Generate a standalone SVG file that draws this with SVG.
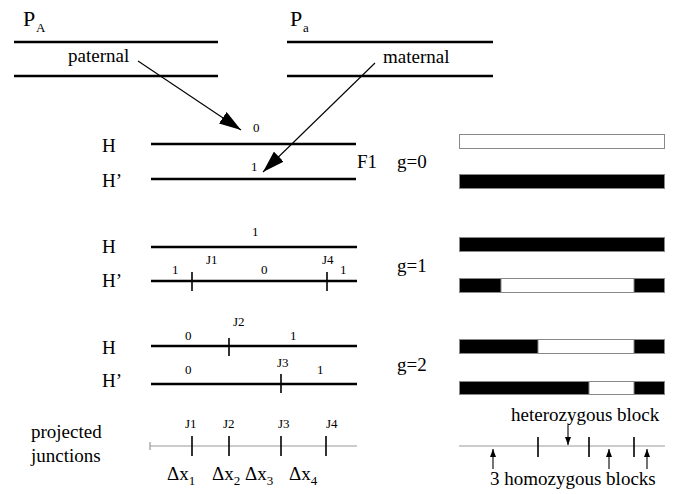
<svg xmlns="http://www.w3.org/2000/svg" width="674" height="494" viewBox="0 0 674 494" font-family="'Liberation Serif', 'DejaVu Serif', serif">
<style>
text{font-family:'Liberation Serif','DejaVu Serif',serif;fill:#000}
.big{font-size:19px}
.sm{font-size:13px}
.p{font-size:22px}
.sub{font-size:13px}
.chr{stroke:#000;stroke-width:2.4;fill:none}
.tick{stroke:#000;stroke-width:1.6}
.gl{stroke:#999;stroke-width:1.2}
.bk{fill:#000;stroke:#888;stroke-width:1}
.wh{fill:#fff;stroke:#888;stroke-width:1}
.arr{stroke:#000;stroke-width:1.1;fill:none}
</style>
<defs>
<marker id="ah" markerUnits="userSpaceOnUse" markerWidth="24" markerHeight="14" refX="22" refY="7" orient="auto">
<path d="M0,0 L22,7 L0,14 Z" fill="#000"/>
</marker>
<marker id="ahs" markerUnits="userSpaceOnUse" markerWidth="8" markerHeight="6" refX="8" refY="3" orient="auto">
<path d="M0,0 L8,3 L0,6 Z" fill="#000"/>
</marker>
</defs>

<g id="parentA">
<text class="p" x="23" y="26">P</text><text class="sub" x="36" y="32">A</text>
<line class="chr" x1="14" y1="42" x2="218" y2="42"/>
<line class="chr" x1="14" y1="76" x2="218" y2="76"/>
<text class="big" x="68" y="62">paternal</text>
</g>
<g id="parentB">
<text class="p" x="290" y="26">P</text><text class="sub" x="303" y="32">a</text>
<line class="chr" x1="287" y1="42" x2="493" y2="42"/>
<line class="chr" x1="287" y1="76" x2="493" y2="76"/>
<text class="big" x="383" y="63">maternal</text>
</g>

<g id="connectors">
<line class="arr" x1="138" y1="61" x2="241" y2="130" marker-end="url(#ah)"/>
<line class="arr" x1="375" y1="63" x2="263" y2="172" marker-end="url(#ah)"/>
<line class="arr" x1="568" y1="425" x2="568" y2="445" marker-end="url(#ahs)"/>
<line class="arr" x1="493" y1="469" x2="493" y2="449" marker-end="url(#ahs)"/>
<line class="arr" x1="609" y1="469" x2="609" y2="449" marker-end="url(#ahs)"/>
<line class="arr" x1="647" y1="469" x2="647" y2="449" marker-end="url(#ahs)"/>
</g>

<g id="f1">
<text class="big" x="102" y="152">H</text>
<text class="big" x="102" y="187">H’</text>
<line class="chr" x1="151" y1="144" x2="356" y2="144"/>
<line class="chr" x1="151" y1="179" x2="356" y2="179"/>
<text class="sm" x="253" y="132">0</text>
<text class="sm" x="251" y="171">1</text>
<text class="big" x="357" y="168">F1</text>
<text class="big" x="397" y="168">g=0</text>
<rect class="wh" x="459.5" y="134.5" width="205" height="14"/>
<rect class="bk" x="459.5" y="174.5" width="205" height="14"/>
</g>

<g id="g1">
<text class="big" x="102" y="253">H</text>
<text class="big" x="102" y="287">H’</text>
<line class="chr" x1="151" y1="247" x2="357" y2="247"/>
<line class="chr" x1="151" y1="281" x2="357" y2="281"/>
<line class="tick" x1="192" y1="272" x2="192" y2="291"/>
<line class="tick" x1="327" y1="272" x2="327" y2="291"/>
<text class="sm" x="252" y="236">1</text>
<text class="sm" x="172" y="274">1</text>
<text class="sm" x="206" y="264">J1</text>
<text class="sm" x="261" y="274">0</text>
<text class="sm" x="322" y="264">J4</text>
<text class="sm" x="340" y="274">1</text>
<text class="big" x="397" y="272">g=1</text>
<rect class="bk" x="459.5" y="237.5" width="205" height="14"/>
<rect class="bk" x="459.5" y="278.5" width="205" height="14"/>
<rect class="wh" x="501" y="278.5" width="133" height="14"/>
</g>

<g id="g2">
<text class="big" x="102" y="354">H</text>
<text class="big" x="102" y="387">H’</text>
<line class="chr" x1="151" y1="346" x2="357" y2="346"/>
<line class="chr" x1="151" y1="384" x2="357" y2="384"/>
<line class="tick" x1="229" y1="338" x2="229" y2="356"/>
<line class="tick" x1="281" y1="374" x2="281" y2="393"/>
<text class="sm" x="185" y="340">0</text>
<text class="sm" x="233" y="326">J2</text>
<text class="sm" x="290" y="340">1</text>
<text class="sm" x="185" y="374">0</text>
<text class="sm" x="277" y="367">J3</text>
<text class="sm" x="317" y="374">1</text>
<text class="big" x="397" y="371">g=2</text>
<rect class="bk" x="459.5" y="339.5" width="205" height="14"/>
<rect class="wh" x="538" y="339.5" width="96" height="14"/>
<rect class="bk" x="459.5" y="381.5" width="205" height="13"/>
<rect class="wh" x="589" y="381.5" width="45" height="13"/>
</g>

<g id="projected">
<text class="big" x="31" y="438">projected</text>
<text class="big" x="31" y="462">junctions</text>
<line class="gl" x1="150" y1="446" x2="357" y2="446"/>
<line class="gl" x1="150" y1="442" x2="150" y2="450"/>
<line class="tick" x1="192" y1="436" x2="192" y2="456"/>
<line class="tick" x1="229" y1="436" x2="229" y2="456"/>
<line class="tick" x1="281" y1="436" x2="281" y2="456"/>
<line class="tick" x1="326" y1="436" x2="326" y2="456"/>
<text class="sm" x="185" y="428">J1</text>
<text class="sm" x="223" y="428">J2</text>
<text class="sm" x="278" y="428">J3</text>
<text class="sm" x="326" y="428">J4</text>
<text class="big" x="167" y="480">Δx<tspan class="sub" dy="5">1</tspan></text>
<text class="big" x="212" y="480">Δx<tspan class="sub" dy="5">2</tspan></text>
<text class="big" x="245" y="480">Δx<tspan class="sub" dy="5">3</tspan></text>
<text class="big" x="289" y="480">Δx<tspan class="sub" dy="5">4</tspan></text>
</g>

<g id="blocks">
<text class="big" x="511" y="421">heterozygous block</text>
<line class="gl" x1="459" y1="446" x2="665" y2="446"/>
<line class="tick" x1="538" y1="437" x2="538" y2="457"/>
<line class="tick" x1="589" y1="437" x2="589" y2="457"/>
<line class="tick" x1="634" y1="437" x2="634" y2="457"/>
<text class="big" x="490" y="485">3 homozygous blocks</text>
</g>
</svg>
